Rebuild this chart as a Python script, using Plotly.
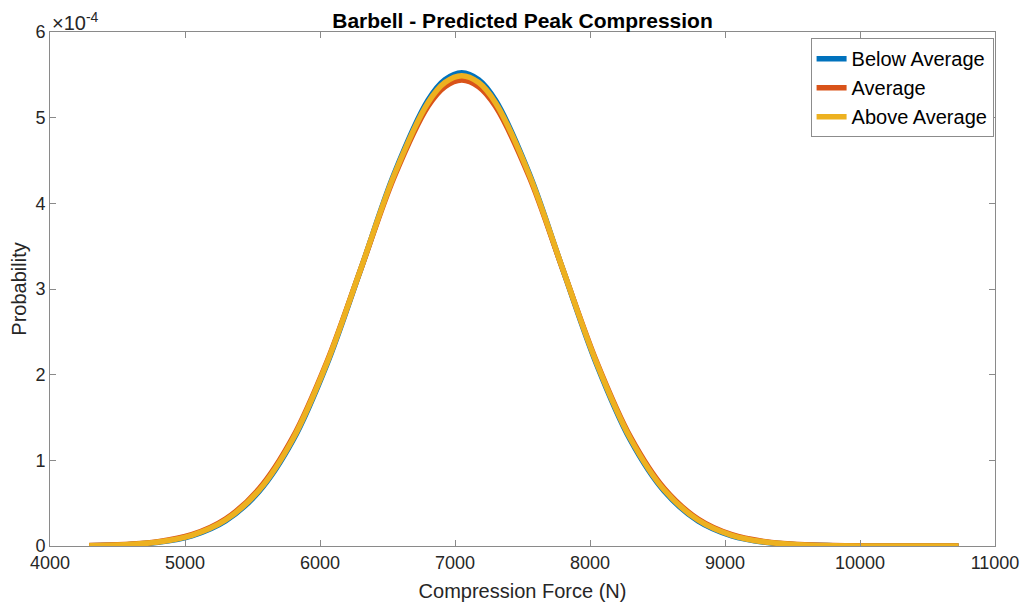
import plotly.graph_objects as go

# Compression force sample positions (N)
force = [4290, 4550, 4800, 5050, 5300, 5550, 5800, 6050, 6300, 6550, 6800, 6925, 7050,
         7175, 7300, 7550, 7800, 8050, 8300, 8550, 8800, 9050, 9300, 9550, 9800,
         10050, 10300, 10550, 10730]

# Probability values (units of 1e-4)
below_avg = [0.0039, 0.0138, 0.043, 0.119, 0.293, 0.639, 1.234, 2.117, 3.222, 4.347, 5.203, 5.443, 5.525,
             5.443, 5.203, 4.347, 3.222, 2.117, 1.234, 0.639, 0.293, 0.119, 0.043, 0.0138, 0.0039,
             0.0010, 0.0002, 0.00004, 0.00001]
average = [0.0048, 0.0162, 0.049, 0.1315, 0.3146, 0.670, 1.271, 2.145, 3.223, 4.311, 5.133, 5.362, 5.44,
           5.362, 5.133, 4.311, 3.223, 2.145, 1.271, 0.670, 0.3146, 0.1315, 0.049, 0.0162, 0.0048,
           0.0013, 0.0003, 0.00006, 0.00001]
above_avg = [0.0043, 0.0148, 0.0457, 0.1248, 0.303, 0.653, 1.252, 2.132, 3.225, 4.334, 5.175, 5.41, 5.49,
             5.41, 5.175, 4.334, 3.225, 2.132, 1.252, 0.653, 0.303, 0.1248, 0.0457, 0.0148, 0.0043,
             0.0011, 0.00025, 0.00005, 0.00001]

series_names = ["Below Average", "Average", "Above Average"]
series_colors = ["#0072BD", "#D95319", "#EDB120"]

x_ticks = [4000, 5000, 6000, 7000, 8000, 9000, 10000, 11000]
y_ticks = [0, 1, 2, 3, 4, 5, 6]

font_family = "Liberation Sans, Arial, Helvetica, sans-serif"
axis_color = "#262626"

fig = go.Figure()
for name, vals, col in zip(series_names, [below_avg, average, above_avg], series_colors):
    fig.add_trace(go.Scatter(
        x=force, y=[v * 1e-4 for v in vals], name=name, mode="lines",
        line=dict(color=col, width=5.5, shape="spline", smoothing=1.0),
    ))

fig.update_layout(
    width=1028, height=609,
    margin=dict(l=42, r=41, t=24, b=71, autoexpand=False),
    paper_bgcolor="white", plot_bgcolor="white",
    font=dict(family=font_family, color=axis_color, size=18),
    title=dict(text="<b>Barbell - Predicted Peak Compression</b>", x=0.5, xanchor="center",
               xref="paper", y=0.98, yanchor="middle", automargin=False,
               font=dict(size=21, color="black")),
    showlegend=True,
    legend=dict(x=0.9985, y=0.988, xanchor="right", yanchor="top",
                bgcolor="white", bordercolor="#8c8c8c", borderwidth=1,
                font=dict(size=20, color="black"), tracegroupgap=0,
                itemwidth=30),
)

fig.update_xaxes(
    range=[4000, 11000], tickvals=x_ticks, ticktext=[str(t) for t in x_ticks],
    showgrid=False, zeroline=False, showline=True, linecolor="#8a8a8a", linewidth=1,
    mirror="ticks", ticks="inside", ticklen=6, tickcolor="#8a8a8a", automargin=False,
    tickfont=dict(size=18, color=axis_color),
    title=dict(text="Compression Force (N)", font=dict(size=20, color=axis_color), standoff=12),
)
fig.update_yaxes(
    range=[0, 6e-4], tickvals=[t * 1e-4 for t in y_ticks], ticktext=[str(t) for t in y_ticks],
    showgrid=False, zeroline=False, showline=True, linecolor="#8a8a8a", linewidth=1,
    mirror="ticks", ticks="inside", ticklen=6, tickcolor="#8a8a8a", automargin=False,
    tickfont=dict(size=18, color=axis_color),
    title=dict(text="Probability", font=dict(size=20, color=axis_color), standoff=4),
)

fig.add_annotation(
    text="×10<sup>-4</sup>", xref="paper", yref="paper", x=0.0, y=1.0,
    xanchor="left", yanchor="bottom", showarrow=False, yshift=-4,
    font=dict(size=20, color=axis_color),
)

fig.write_html("out.html")
